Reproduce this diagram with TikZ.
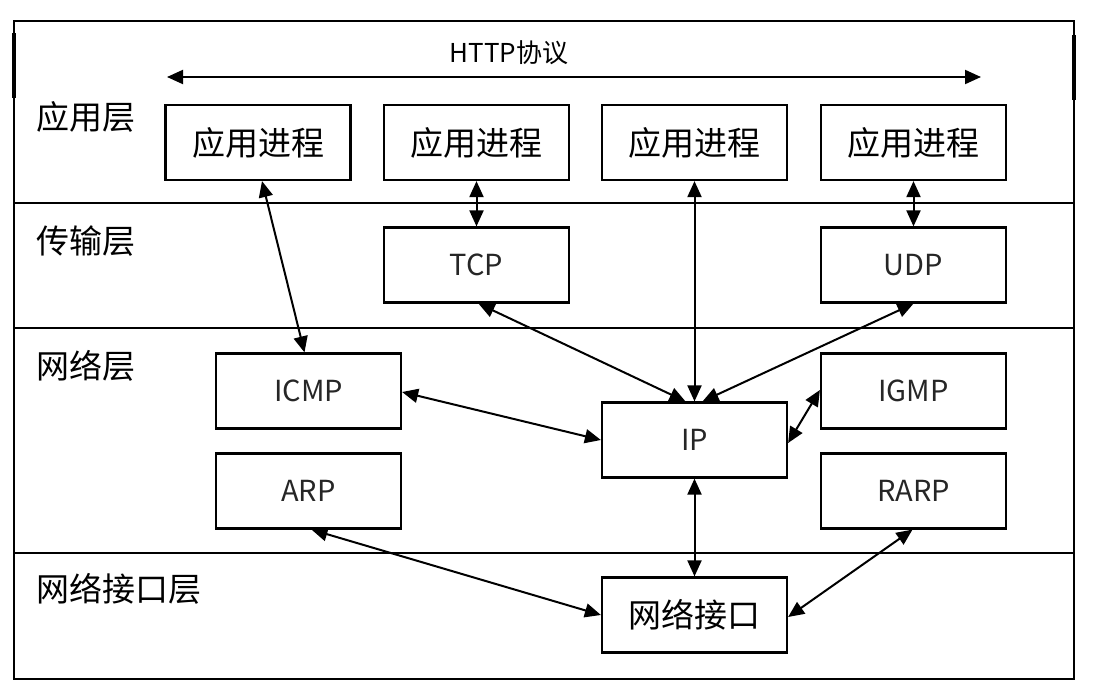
\documentclass[tikz,border=0pt]{standalone}
\usepackage{fontspec}
\newfontfamily\cjk{Noto Sans CJK SC}
\usetikzlibrary{arrows.meta}
\begin{document}
\begin{tikzpicture}[x=1pt,y=-1pt,
  box/.style={draw, line width=2.2pt, minimum width=185pt, minimum height=75pt, inner sep=0pt, font=\cjk\fontsize{33}{33}\selectfont},
  latinbox/.style={box, font=\cjk\fontsize{29}{29}\selectfont, text=black!85},
  layerlbl/.style={anchor=west, inner sep=0pt, font=\cjk\fontsize{33}{33}\selectfont},
  frame/.style={line width=2.2pt},
  conn/.style={line width=2pt, {Triangle[length=16pt,width=14pt]}-{Triangle[length=16pt,width=14pt]}}
]
\useasboundingbox (0,0) rectangle (1098,688);
% outer frame and layer separators
\draw[frame] (14,21) rectangle (1074,679);
\draw[line width=4pt] (14,33) -- (14,98);
\draw[line width=4pt] (1074,35) -- (1074,100);
\draw[frame] (14,203) -- (1074,203);
\draw[frame] (14,328) -- (1074,328);
\draw[frame] (14,553) -- (1074,553);
% layer labels
\node[layerlbl] (lapp) at (36,117) {应用层};
\node[layerlbl] (ltrans) at (36,241) {传输层};
\node[layerlbl] (lnet) at (36,366) {网络层};
\node[layerlbl] (lif) at (36,589) {网络接口层};
% HTTP
\node[font=\cjk\fontsize{26}{26}\selectfont, inner sep=0pt] (http) at (509,53) {HTTP协议};
\coordinate (hl) at (167,77);
\coordinate (hr) at (981,77);
\draw[conn] (hl) -- (hr);
% boxes
\node[box] (app1) at (258,142.5) {应用进程};
\node[box] (app2) at (476.5,142.5) {应用进程};
\node[box] (app3) at (694.5,142.5) {应用进程};
\node[box] (app4) at (913.5,142.5) {应用进程};
\node[latinbox] (tcp) at (476.5,265) {TCP};
\node[latinbox] (udp) at (913.5,265) {UDP};
\node[latinbox] (icmp) at (308.5,391) {ICMP};
\node[latinbox] (igmp) at (913.5,391) {IGMP};
\node[latinbox] (ip) at (694.5,440) {IP};
\node[latinbox] (arp) at (308.5,491) {ARP};
\node[latinbox] (rarp) at (913.5,491) {RARP};
\node[box] (nif) at (694.5,615) {网络接口};
% connectors
\draw[conn] ([xshift=4pt]app1.south) -- ([xshift=-4pt]icmp.north);
\draw[conn] (app2.south) -- (tcp.north);
\draw[conn] (app3.south) -- (ip.north);
\draw[conn] (app4.south) -- (udp.north);
\draw[conn] ([xshift=2pt]tcp.south) -- ([xshift=-9pt]ip.north);
\draw[conn] (udp.south) -- ([xshift=8pt]ip.north);
\draw[conn] ([yshift=-1pt]icmp.east) -- (ip.west);
\draw[conn] ([yshift=1pt]igmp.west) -- ([yshift=-3pt]ip.east);
\draw[conn] (ip.south) -- (nif.north);
\draw[conn] ([xshift=3pt]arp.south) -- (nif.west);
\draw[conn] ([xshift=-1pt]rarp.south) -- ([yshift=-2pt]nif.east);
\end{tikzpicture}
\end{document}
